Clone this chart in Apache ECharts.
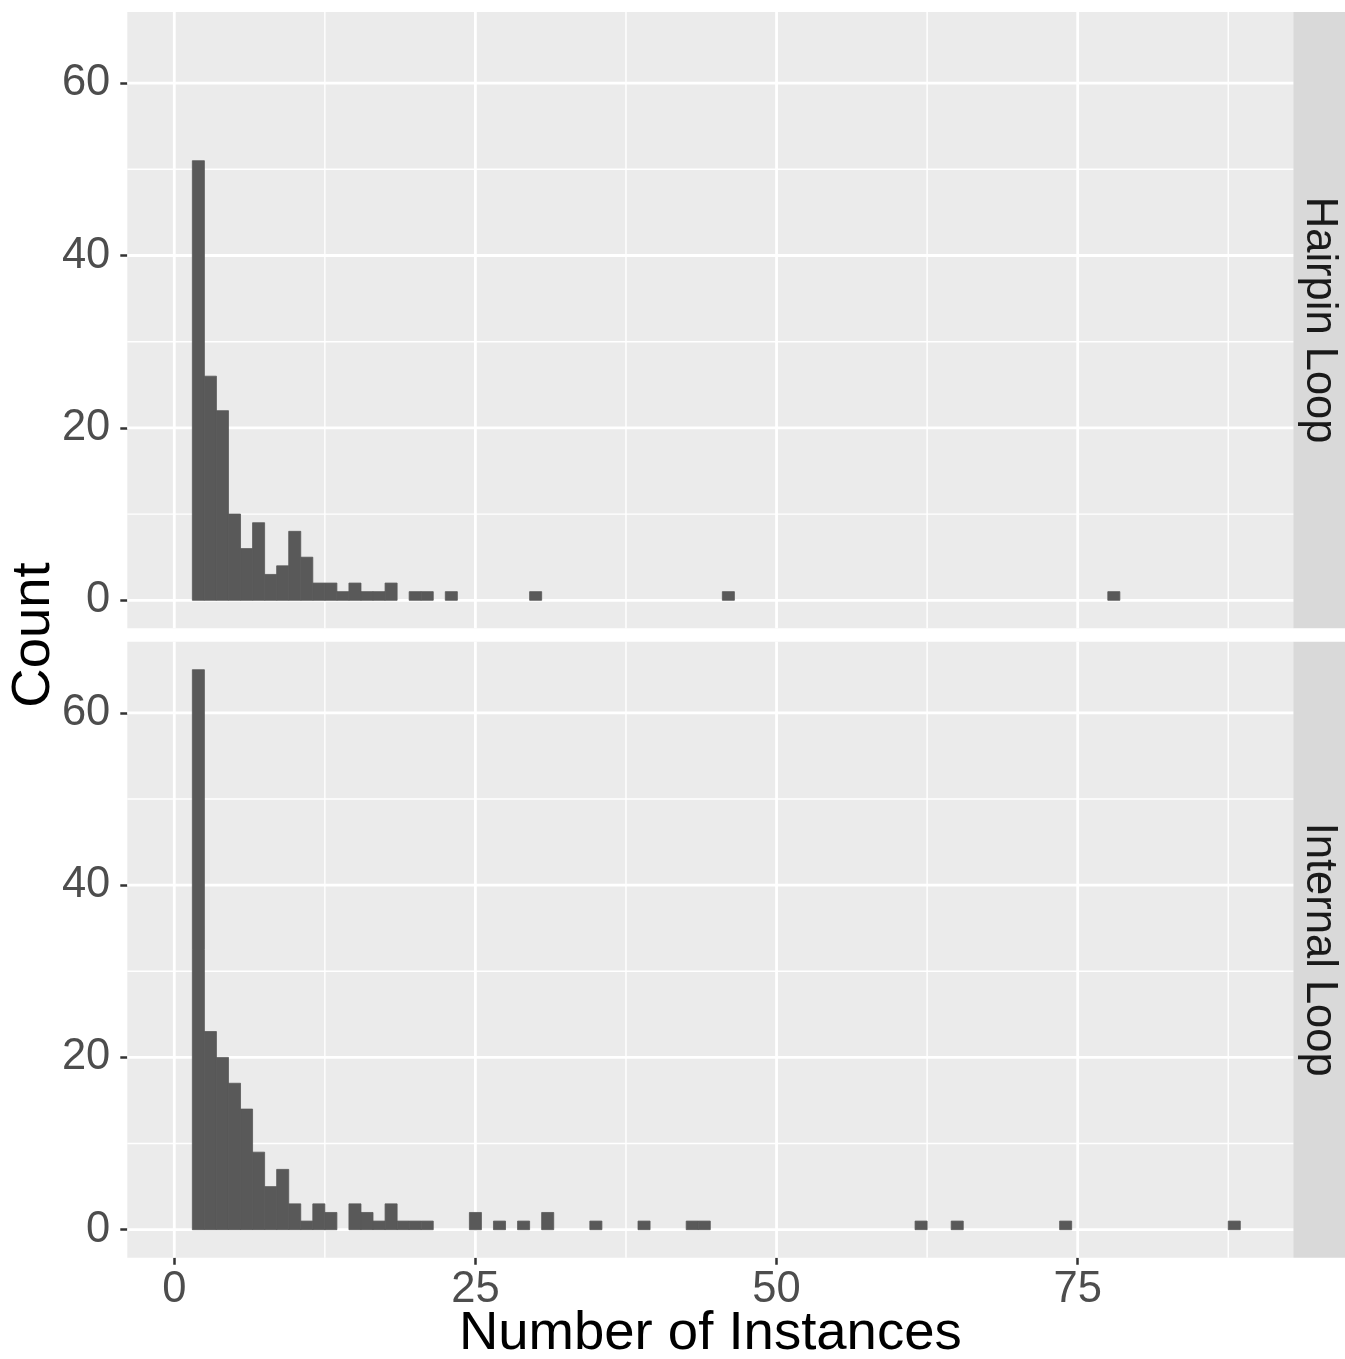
<!DOCTYPE html>
<html>
<head>
<meta charset="utf-8">
<title>Number of Instances</title>
<script src="https://cdn.jsdelivr.net/npm/echarts@6/dist/echarts.min.js"></script>
<style>
  html, body { margin: 0; padding: 0; background: #fff; }
</style>
</head>
<body>
<div id="main" style="width:1345px;height:1359px;"></div>
<script type="text/javascript">
    // facet names (top -> bottom)
    var panelNames = ['Hairpin Loop', 'Internal Loop'];

    // histogram bins (binwidth 1, centred on integers) and counts
    var hairpinBins = [2, 3, 4, 5, 6, 7, 8, 9, 10, 11, 12, 13, 14, 15, 16, 17, 18, 20, 21, 23, 30, 46, 78];
    var hairpinCounts = [51, 26, 22, 10, 6, 9, 3, 4, 8, 5, 2, 2, 1, 2, 1, 1, 2, 1, 1, 1, 1, 1, 1];

    var internalBins = [2, 3, 4, 5, 6, 7, 8, 9, 10, 11, 12, 13, 15, 16, 17, 18, 19, 20, 21, 25, 27, 29, 31, 35, 39, 43, 44, 62, 65, 74, 88];
    var internalCounts = [65, 23, 20, 17, 14, 9, 5, 7, 3, 1, 3, 2, 3, 2, 1, 3, 1, 1, 1, 2, 1, 1, 2, 1, 1, 1, 1, 1, 1, 1, 1];

    // axis ticks
    var xTicks = [0, 25, 50, 75];
    var xMinor = [12.5, 37.5, 62.5, 87.5];
    var yTicks = [0, 20, 40, 60];
    var yMinor = [10, 30, 50];

    var FONT = 'Liberation Sans, Arial, sans-serif';
    var panels = [
        { top: 12, height: 616.3 },
        { top: 641.7, height: 616 }
    ];
    var panelLeft = 127.3, panelWidth = 1166;

    var grids = [], xAxes = [], yAxes = [], series = [], graphics = [];

    function histSeries(gi, bins, counts) {
        return {
            type: 'custom',
            xAxisIndex: gi,
            yAxisIndex: gi,
            z: 3,
            silent: true,
            data: bins.map(function (b, i) { return [b, counts[i]]; }),
            renderItem: function (params, api) {
                var k = api.value(0), c = api.value(1);
                var p0 = api.coord([k - 0.5, c]);
                var p1 = api.coord([k + 0.5, 0]);
                return {
                    type: 'rect',
                    shape: { x: p0[0], y: p0[1], width: p1[0] - p0[0], height: p1[1] - p0[1] },
                    // thin stroke of the same grey hides seams between neighbouring bins
                    style: { fill: '#595959', stroke: '#595959', lineWidth: 0.8 }
                };
            }
        };
    }

    // white panel grid lines, drawn below the bars
    function gridSeries(gi) {
        var d = [];
        xMinor.forEach(function (v) { d.push([v, 1, 0]); });
        yMinor.forEach(function (v) { d.push([v, 0, 0]); });
        xTicks.forEach(function (v) { d.push([v, 1, 1]); });
        yTicks.forEach(function (v) { d.push([v, 0, 1]); });
        return {
            type: 'custom',
            xAxisIndex: gi,
            yAxisIndex: gi,
            z: 1,
            silent: true,
            data: d,
            renderItem: function (params, api) {
                var v = api.value(0), vert = api.value(1), major = api.value(2);
                var cs = params.coordSys;
                var shape;
                if (vert) {
                    var x = api.coord([v, 0])[0];
                    shape = { x1: x, y1: cs.y, x2: x, y2: cs.y + cs.height };
                } else {
                    var y = api.coord([0, v])[1];
                    shape = { x1: cs.x, y1: y, x2: cs.x + cs.width, y2: y };
                }
                return {
                    type: 'line',
                    shape: shape,
                    style: { stroke: '#ffffff', lineWidth: major ? 2.8 : 1.4 }
                };
            }
        };
    }

    panels.forEach(function (p, gi) {
        var isBottom = gi === panels.length - 1;
        grids.push({
            left: panelLeft, top: p.top, width: panelWidth, height: p.height,
            show: true, backgroundColor: '#EBEBEB', borderWidth: 0
        });
        xAxes.push({
            type: 'value', gridIndex: gi, min: -3.9, max: 92.9,
            position: 'bottom',
            axisLine: { show: false, onZero: false },
            splitLine: { show: false },
            axisTick: {
                show: isBottom, customValues: xTicks, length: 7,
                lineStyle: { color: '#333333', width: 2.5 }
            },
            axisLabel: {
                show: isBottom, customValues: xTicks, margin: 10,
                fontSize: 43.5, color: '#4D4D4D', fontFamily: FONT
            }
        });
        yAxes.push({
            type: 'value', gridIndex: gi, min: -3.25, max: 68.25,
            position: 'left',
            axisLine: { show: false, onZero: false },
            splitLine: { show: false },
            axisTick: {
                show: true, customValues: yTicks, length: 7,
                lineStyle: { color: '#333333', width: 2.5 }
            },
            axisLabel: {
                customValues: yTicks, margin: 17,
                fontSize: 43.5, color: '#4D4D4D', fontFamily: FONT
            }
        });
        series.push(gridSeries(gi));

        // facet strip on the right
        graphics.push({
            type: 'rect',
            shape: { x: panelLeft + panelWidth, y: p.top, width: 1345 - panelLeft - panelWidth, height: p.height },
            style: { fill: '#D9D9D9' },
            silent: true
        });
        graphics.push({
            type: 'text',
            x: panelLeft + panelWidth + 26,
            y: p.top + p.height / 2,
            rotation: -Math.PI / 2,
            style: {
                text: panelNames[gi], fill: '#1A1A1A', font: '43.5px ' + FONT,
                textAlign: 'center', textVerticalAlign: 'middle'
            },
            silent: true
        });
    });

    series.push(histSeries(0, hairpinBins, hairpinCounts));
    series.push(histSeries(1, internalBins, internalCounts));

    // axis titles
    graphics.push({
        type: 'text',
        x: 34,
        y: 635,
        rotation: Math.PI / 2,
        style: {
            text: 'Count', fill: '#000000', font: '54.5px ' + FONT,
            textAlign: 'center', textVerticalAlign: 'middle'
        },
        silent: true
    });
    graphics.push({
        type: 'text',
        x: panelLeft + panelWidth / 2,
        y: 1334,
        style: {
            text: 'Number of Instances', fill: '#000000', font: '54.5px ' + FONT,
            textAlign: 'center', textVerticalAlign: 'middle'
        },
        silent: true
    });

    var chart = echarts.init(document.getElementById('main'));
    chart.setOption({
        backgroundColor: '#ffffff',
        animation: false,
        grid: grids,
        xAxis: xAxes,
        yAxis: yAxes,
        series: series,
        graphic: graphics
    });
</script>
</body>
</html>
